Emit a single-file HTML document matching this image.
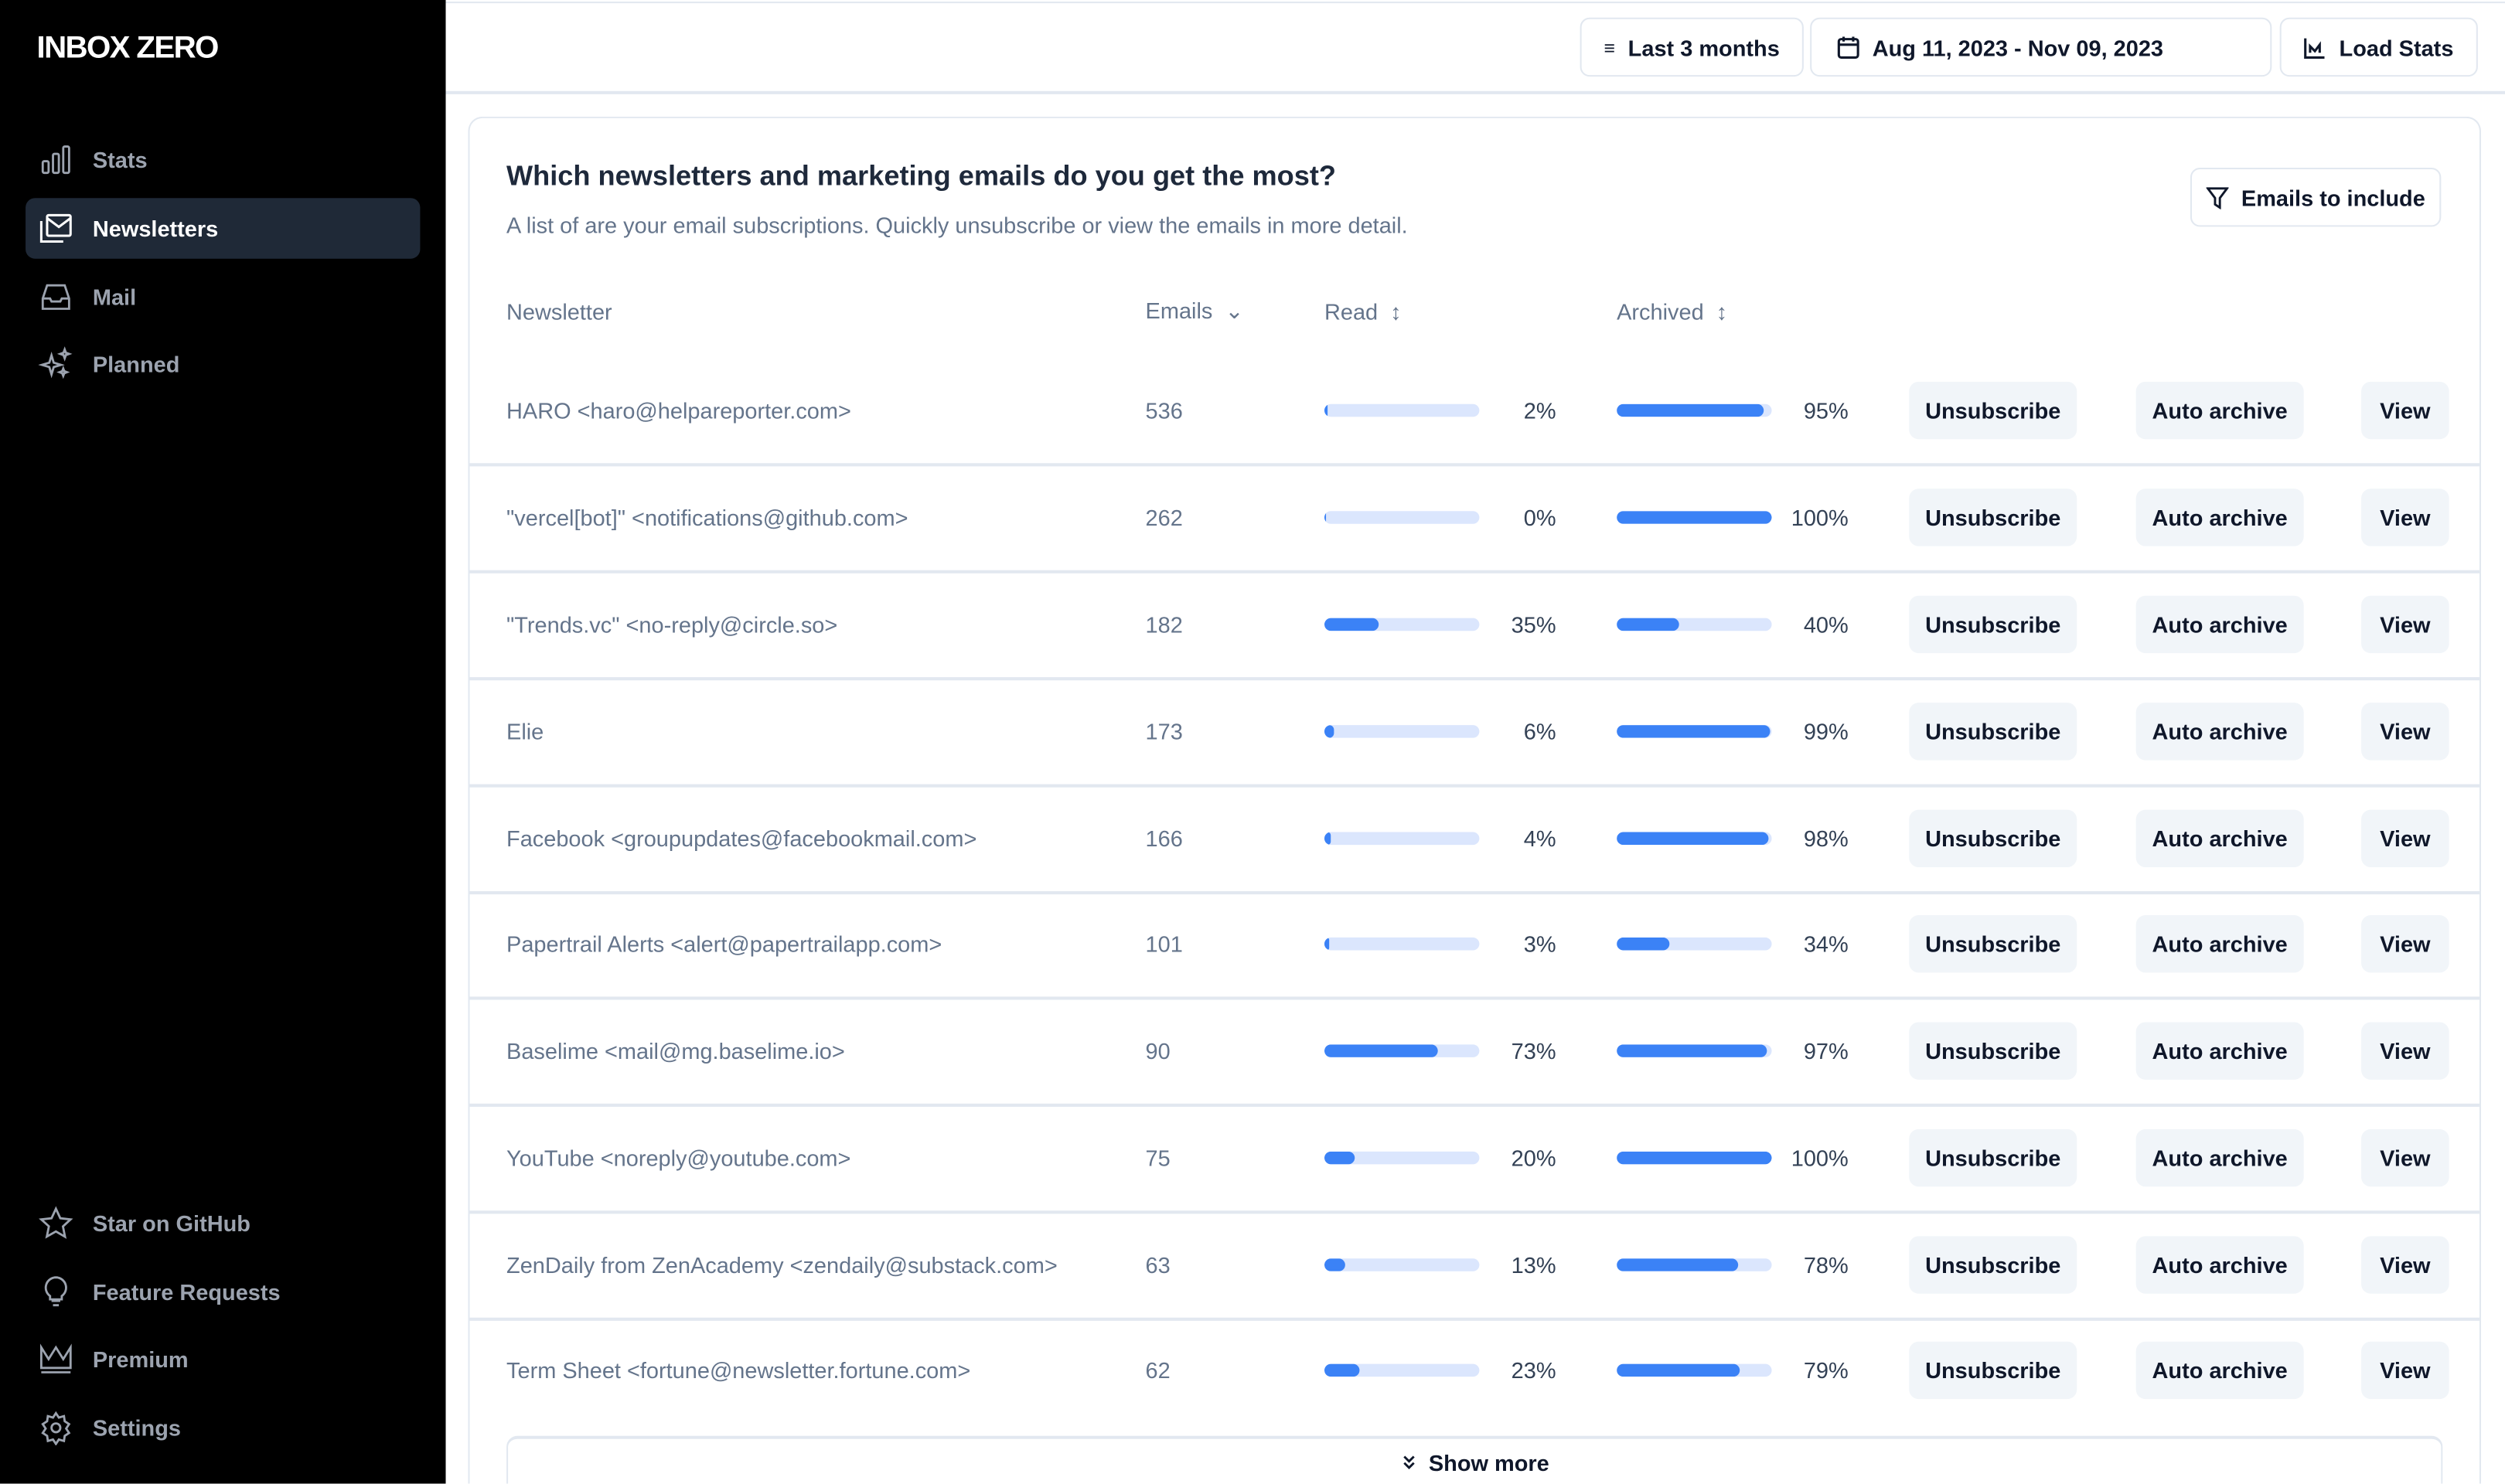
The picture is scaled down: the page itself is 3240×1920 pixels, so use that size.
<!DOCTYPE html>
<html><head><meta charset="utf-8"><style>
*{box-sizing:border-box;margin:0;padding:0}
html,body{width:3240px;height:1920px;overflow:hidden;background:#fff}
#w{position:absolute;left:0;top:0;width:3240px;height:1920px;overflow:hidden}
#s{position:absolute;left:0;top:0;width:1568px;height:929px;overflow:hidden;transform:scale(2.06633);transform-origin:0 0;font-family:"Liberation Sans",sans-serif;}
.a{position:absolute}
.side{left:0;top:0;width:279px;height:929px;background:#000}
.logo{left:23px;top:19px;color:#fff;font-weight:bold;font-size:19.5px;letter-spacing:-0.8px}
.nav{left:58px;color:#9ca3af;font-weight:bold;font-size:14px;transform:translateY(-50%)}
.ic{left:24px;width:22px;height:22px;transform:translateY(-50%)}
.btn{border:1px solid #e2e8f0;border-radius:6px;background:#fff;font-size:14px;color:#0f172a;font-weight:bold;display:flex;align-items:center;justify-content:center;gap:8px}
.card{left:293px;top:73px;width:1260px;height:856px;border:1px solid #e2e8f0;border-bottom:none;border-radius:9px 9px 0 0}
.t{font-size:14px;color:#64748b;transform:translateY(-50%)}
.pct{font-size:14px;color:#334155;transform:translateY(-50%);text-align:right;width:60px}
.bar{height:8px;width:97px;background:#dbe6fd;border-radius:4px;overflow:hidden;transform:translateY(-50%)}
.bar i{display:block;height:100%;background:#3b82f6;border-radius:4px;min-width:2px}
.gb{height:36px;background:#f1f5f9;border-radius:6px;font-size:14px;color:#0f172a;font-weight:bold;display:flex;align-items:center;justify-content:center;transform:translateY(-50%)}
.sep{left:294px;width:1258px;height:2px;background:#e2e8f0}
.h{font-size:14px;color:#64748b;transform:translateY(-50%)}
</style></head><body><div id="w"><div id="s">
<div class="a side"></div>
<div class="a logo">INBOX ZERO</div>
<div class="a" style="left:16px;top:124px;width:247px;height:38px;background:#1f2937;border-radius:6px"></div>
<svg class="a ic" style="top:100px" viewBox="0 0 24 24" fill="none" stroke="#9ca3af" stroke-width="1.5"><rect x="3" y="13" width="4" height="8" rx="1"/><rect x="10" y="8" width="4" height="13" rx="1"/><rect x="17" y="3" width="4" height="18" rx="1"/></svg>
<div class="a nav" style="top:100px">Stats</div>
<svg class="a ic" style="top:143px" viewBox="0 0 24 24" fill="none" stroke="#fff" stroke-width="1.6"><rect x="6" y="3" width="16" height="14" rx="1"/><path d="M6 5l8 6 8-6M2 7v14h15"/></svg>
<div class="a nav" style="top:143px;color:#fff">Newsletters</div>
<svg class="a ic" style="top:186px" viewBox="0 0 24 24" fill="none" stroke="#9ca3af" stroke-width="1.5"><path d="M3 13l3-9h12l3 9v7H3z M3 13h5l1 2h6l1-2h5"/></svg>
<div class="a nav" style="top:186px">Mail</div>
<svg class="a ic" style="top:228px" viewBox="0 0 24 24" fill="none" stroke="#9ca3af" stroke-width="1.5"><path d="M9 6l1.5 5 5 1.5-5 1.5L9 19l-1.5-5-5-1.5 5-1.5z M18 2l.8 2.2L21 5l-2.2.8L18 8l-.8-2.2L15 5l2.2-.8z M17 15l.7 1.8 1.8.7-1.8.7L17 20l-.7-1.8-1.8-.7 1.8-.7z"/></svg>
<div class="a nav" style="top:228px">Planned</div>
<svg class="a ic" style="top:766px" viewBox="0 0 24 24" fill="none" stroke="#9ca3af" stroke-width="1.5"><path d="M12 2l3 6.5 7 .8-5.2 4.8 1.4 7L12 17.5 5.8 21l1.4-7L2 9.3l7-.8z"/></svg>
<div class="a nav" style="top:766px">Star on GitHub</div>
<svg class="a ic" style="top:809px" viewBox="0 0 24 24" fill="none" stroke="#9ca3af" stroke-width="1.5"><path d="M9 18h6M10 21h4M12 2a7 7 0 0 0-4 12.7V17h8v-2.3A7 7 0 0 0 12 2z"/></svg>
<div class="a nav" style="top:809px">Feature Requests</div>
<svg class="a ic" style="top:851px" viewBox="0 0 24 24" fill="none" stroke="#9ca3af" stroke-width="1.5"><path d="M2 4l5 8 5-8 5 8 5-8v14H2z M2 21h20"/></svg>
<div class="a nav" style="top:851px">Premium</div>
<svg class="a ic" style="top:894px" viewBox="0 0 24 24" fill="none" stroke="#9ca3af" stroke-width="1.5"><circle cx="12" cy="12" r="3"/><path d="M12 2l2 3 3.5-1 .5 3.5 3 2-2 3 2 3-3 2-.5 3.5-3.5-1-2 3-2-3-3.5 1-.5-3.5-3-2 2-3-2-3 3-2 .5-3.5 3.5 1z"/></svg>
<div class="a nav" style="top:894px">Settings</div>

<div class="a" style="left:279px;top:1px;width:1289px;height:1px;background:#e2e8f0"></div>
<div class="a" style="left:279px;top:57px;width:1289px;height:2px;background:#e2e8f0"></div>
<div class="a btn" style="left:989px;top:11px;width:140px;height:37px"><span style="font-size:12px">&#8801;</span>Last 3 months</div>
<div class="a btn" style="left:1133px;top:11px;width:289px;height:37px;justify-content:flex-start;padding-left:16px"><svg width="14" height="15" viewBox="0 0 14 15" fill="none" stroke="#0f172a" stroke-width="1.5"><rect x="1" y="2.5" width="12" height="11.5" rx="1.5"/><path d="M1 6h12M4 1v3M10 1v3"/></svg>Aug 11, 2023 - Nov 09, 2023</div>
<div class="a btn" style="left:1427px;top:11px;width:124px;height:37px"><svg width="14" height="14" viewBox="0 0 14 14" fill="none" stroke="#0f172a" stroke-width="1.5"><path d="M1 1v12h12M4 10V6l3 3 3-4v5"/></svg>Load Stats</div>

<div class="a card"></div>
<div class="a" style="left:317px;top:100px;font-size:17.5px;font-weight:bold;color:#1e293b">Which newsletters and marketing emails do you get the most?</div>
<div class="a" style="left:317px;top:133px;font-size:14px;color:#64748b">A list of are your email subscriptions. Quickly unsubscribe or view the emails in more detail.</div>
<div class="a btn" style="left:1371px;top:105px;width:157px;height:37px"><svg width="14" height="14" viewBox="0 0 14 14" fill="none" stroke="#0f172a" stroke-width="1.4"><path d="M1 1h12L8.5 7v6L5.5 11V7z"/></svg>Emails to include</div>

<div class="a h" style="left:317px;top:195px">Newsletter</div>
<div class="a h" style="left:717px;top:195px">Emails &nbsp;&#8964;</div>
<div class="a h" style="left:829px;top:195px">Read &nbsp;&#8597;</div>
<div class="a h" style="left:1012px;top:195px">Archived &nbsp;&#8597;</div>

<div class="a t" style="left:317px;top:257px">HARO &lt;haro@helpareporter.com&gt;</div><div class="a t" style="left:717px;top:257px">536</div>
<div class="a bar" style="left:829px;top:257px"><i style="width:2%"></i></div><div class="a pct" style="left:914px;top:257px">2%</div>
<div class="a bar" style="left:1012px;top:257px"><i style="width:95%"></i></div><div class="a pct" style="left:1097px;top:257px">95%</div>
<div class="a gb" style="left:1195px;top:257px;width:105px">Unsubscribe</div><div class="a gb" style="left:1337px;top:257px;width:105px">Auto archive</div><div class="a gb" style="left:1478px;top:257px;width:55px">View</div>
<div class="a sep" style="top:290px"></div>

<div class="a t" style="left:317px;top:324px">"vercel[bot]" &lt;notifications@github.com&gt;</div><div class="a t" style="left:717px;top:324px">262</div>
<div class="a bar" style="left:829px;top:324px"><i style="width:0%;min-width:1px"></i></div><div class="a pct" style="left:914px;top:324px">0%</div>
<div class="a bar" style="left:1012px;top:324px"><i style="width:100%"></i></div><div class="a pct" style="left:1097px;top:324px">100%</div>
<div class="a gb" style="left:1195px;top:324px;width:105px">Unsubscribe</div><div class="a gb" style="left:1337px;top:324px;width:105px">Auto archive</div><div class="a gb" style="left:1478px;top:324px;width:55px">View</div>
<div class="a sep" style="top:357px"></div>

<div class="a t" style="left:317px;top:391px">"Trends.vc" &lt;no-reply@circle.so&gt;</div><div class="a t" style="left:717px;top:391px">182</div>
<div class="a bar" style="left:829px;top:391px"><i style="width:35%"></i></div><div class="a pct" style="left:914px;top:391px">35%</div>
<div class="a bar" style="left:1012px;top:391px"><i style="width:40%"></i></div><div class="a pct" style="left:1097px;top:391px">40%</div>
<div class="a gb" style="left:1195px;top:391px;width:105px">Unsubscribe</div><div class="a gb" style="left:1337px;top:391px;width:105px">Auto archive</div><div class="a gb" style="left:1478px;top:391px;width:55px">View</div>
<div class="a sep" style="top:424px"></div>

<div class="a t" style="left:317px;top:458px">Elie</div><div class="a t" style="left:717px;top:458px">173</div>
<div class="a bar" style="left:829px;top:458px"><i style="width:6%"></i></div><div class="a pct" style="left:914px;top:458px">6%</div>
<div class="a bar" style="left:1012px;top:458px"><i style="width:99%"></i></div><div class="a pct" style="left:1097px;top:458px">99%</div>
<div class="a gb" style="left:1195px;top:458px;width:105px">Unsubscribe</div><div class="a gb" style="left:1337px;top:458px;width:105px">Auto archive</div><div class="a gb" style="left:1478px;top:458px;width:55px">View</div>
<div class="a sep" style="top:491px"></div>

<div class="a t" style="left:317px;top:525px">Facebook &lt;groupupdates@facebookmail.com&gt;</div><div class="a t" style="left:717px;top:525px">166</div>
<div class="a bar" style="left:829px;top:525px"><i style="width:4%"></i></div><div class="a pct" style="left:914px;top:525px">4%</div>
<div class="a bar" style="left:1012px;top:525px"><i style="width:98%"></i></div><div class="a pct" style="left:1097px;top:525px">98%</div>
<div class="a gb" style="left:1195px;top:525px;width:105px">Unsubscribe</div><div class="a gb" style="left:1337px;top:525px;width:105px">Auto archive</div><div class="a gb" style="left:1478px;top:525px;width:55px">View</div>
<div class="a sep" style="top:558px"></div>

<div class="a t" style="left:317px;top:591px">Papertrail Alerts &lt;alert@papertrailapp.com&gt;</div><div class="a t" style="left:717px;top:591px">101</div>
<div class="a bar" style="left:829px;top:591px"><i style="width:3%"></i></div><div class="a pct" style="left:914px;top:591px">3%</div>
<div class="a bar" style="left:1012px;top:591px"><i style="width:34%"></i></div><div class="a pct" style="left:1097px;top:591px">34%</div>
<div class="a gb" style="left:1195px;top:591px;width:105px">Unsubscribe</div><div class="a gb" style="left:1337px;top:591px;width:105px">Auto archive</div><div class="a gb" style="left:1478px;top:591px;width:55px">View</div>
<div class="a sep" style="top:624px"></div>

<div class="a t" style="left:317px;top:658px">Baselime &lt;mail@mg.baselime.io&gt;</div><div class="a t" style="left:717px;top:658px">90</div>
<div class="a bar" style="left:829px;top:658px"><i style="width:73%"></i></div><div class="a pct" style="left:914px;top:658px">73%</div>
<div class="a bar" style="left:1012px;top:658px"><i style="width:97%"></i></div><div class="a pct" style="left:1097px;top:658px">97%</div>
<div class="a gb" style="left:1195px;top:658px;width:105px">Unsubscribe</div><div class="a gb" style="left:1337px;top:658px;width:105px">Auto archive</div><div class="a gb" style="left:1478px;top:658px;width:55px">View</div>
<div class="a sep" style="top:691px"></div>

<div class="a t" style="left:317px;top:725px">YouTube &lt;noreply@youtube.com&gt;</div><div class="a t" style="left:717px;top:725px">75</div>
<div class="a bar" style="left:829px;top:725px"><i style="width:20%"></i></div><div class="a pct" style="left:914px;top:725px">20%</div>
<div class="a bar" style="left:1012px;top:725px"><i style="width:100%"></i></div><div class="a pct" style="left:1097px;top:725px">100%</div>
<div class="a gb" style="left:1195px;top:725px;width:105px">Unsubscribe</div><div class="a gb" style="left:1337px;top:725px;width:105px">Auto archive</div><div class="a gb" style="left:1478px;top:725px;width:55px">View</div>
<div class="a sep" style="top:758px"></div>

<div class="a t" style="left:317px;top:792px">ZenDaily from ZenAcademy &lt;zendaily@substack.com&gt;</div><div class="a t" style="left:717px;top:792px">63</div>
<div class="a bar" style="left:829px;top:792px"><i style="width:13%"></i></div><div class="a pct" style="left:914px;top:792px">13%</div>
<div class="a bar" style="left:1012px;top:792px"><i style="width:78%"></i></div><div class="a pct" style="left:1097px;top:792px">78%</div>
<div class="a gb" style="left:1195px;top:792px;width:105px">Unsubscribe</div><div class="a gb" style="left:1337px;top:792px;width:105px">Auto archive</div><div class="a gb" style="left:1478px;top:792px;width:55px">View</div>
<div class="a sep" style="top:825px"></div>

<div class="a t" style="left:317px;top:858px">Term Sheet &lt;fortune@newsletter.fortune.com&gt;</div><div class="a t" style="left:717px;top:858px">62</div>
<div class="a bar" style="left:829px;top:858px"><i style="width:23%"></i></div><div class="a pct" style="left:914px;top:858px">23%</div>
<div class="a bar" style="left:1012px;top:858px"><i style="width:79%"></i></div><div class="a pct" style="left:1097px;top:858px">79%</div>
<div class="a gb" style="left:1195px;top:858px;width:105px">Unsubscribe</div><div class="a gb" style="left:1337px;top:858px;width:105px">Auto archive</div><div class="a gb" style="left:1478px;top:858px;width:55px">View</div>

<div class="a" style="left:317px;top:899px;width:1212px;height:30px;border:1px solid #e2e8f0;border-top:2px solid #e2e8f0;border-bottom:none;border-radius:7px 7px 0 0"></div>
<div class="a" style="left:317px;top:908px;width:1212px;text-align:center;font-size:14px;font-weight:bold;color:#0f172a"><svg width="12" height="12" viewBox="0 0 12 12" fill="none" stroke="#0f172a" stroke-width="1.4" style="vertical-align:-1px;margin-right:6px"><path d="M3 2l3 3 3-3M3 6l3 3 3-3"/></svg>Show more</div>
</div></div></body></html>
